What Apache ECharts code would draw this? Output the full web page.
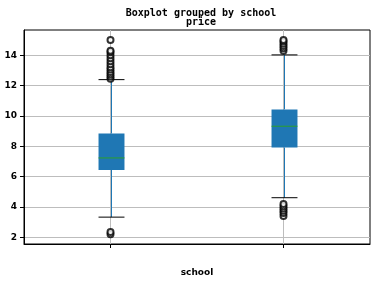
<!DOCTYPE html>
<html><head><meta charset="utf-8">
<script src="https://cdn.jsdelivr.net/npm/echarts@6/dist/echarts.min.js"></script>
<style>html,body{margin:0;padding:0;background:#fff}#c{width:380px;height:282px}</style>
</head><body><div id="c"></div>
<script>
const categories = ['school A', 'school B'];
const lowerWhisker = [3.33, 4.61];
const q1 = [6.44, 7.92];
const median = [7.23, 9.32];
const q3 = [8.84, 10.43];
const upperWhisker = [12.39, 14.02];
const outliersA = [2.2, 2.35, 12.45, 12.6, 12.75, 12.9, 13.05, 13.2, 13.4, 13.6, 13.8, 14.0, 14.2, 14.3, 15.0];
const outliersB = [3.4, 3.6, 3.75, 3.9, 4.05, 4.2, 14.3, 14.45, 14.6, 14.75, 14.9, 15.0];
const yTicks = [2, 4, 6, 8, 10, 12, 14];
const xTicks = [0, 1];

const boxData = categories.map((c, i) => [i, lowerWhisker[i], q1[i], median[i], q3[i], upperWhisker[i]]);
const outlierData = [];
outliersA.forEach(v => outlierData.push([0, v]));
outliersB.forEach(v => outlierData.push([1, v]));

const chart = echarts.init(document.getElementById('c'));
chart.setOption({
  animation: false,
  title: {
    text: 'Boxplot grouped by school\nprice',
    left: 196, top: 4, textAlign: 'center',
    textStyle: { fontFamily: 'DejaVu Sans Mono', fontWeight: 'bold', fontSize: 10, lineHeight: 9, color: '#000' }
  },
  grid: { left: 24, right: 10, top: 30, bottom: 36, show: true, borderColor: '#000', borderWidth: 1, backgroundColor: 'transparent' },
  xAxis: {
    type: 'value', min: -0.5, max: 1.5,
    axisLine: { show: true, onZero: false, lineStyle: { color: '#000', width: 1 } },
    axisTick: { show: true, length: 4, customValues: xTicks, lineStyle: { color: '#000' } },
    axisLabel: { show: false, customValues: xTicks, formatter: v => categories[v] },
    splitLine: { show: true, lineStyle: { color: '#bdbdbd', width: 1 } },
    name: 'school', nameLocation: 'middle', nameGap: 24,
    nameTextStyle: { fontFamily: 'DejaVu Sans', fontWeight: 'bold', fontSize: 9, color: '#000' }
  },
  yAxis: {
    type: 'value', min: 1.56, max: 15.66,
    axisLine: { show: true, onZero: false, lineStyle: { color: '#000', width: 1 } },
    axisTick: { show: true, length: 4, customValues: yTicks, lineStyle: { color: '#000' } },
    axisLabel: { customValues: yTicks, margin: 7, fontFamily: 'DejaVu Sans', fontWeight: 'bold', fontSize: 9, color: '#000' },
    splitLine: { show: true, lineStyle: { color: '#bdbdbd', width: 1 } }
  },
  series: [
    {
      type: 'custom',
      data: boxData,
      z: 3,
      renderItem: function (params, api) {
        const x = api.value(0);
        const pLow = api.coord([x, api.value(1)]);
        const pQ1 = api.coord([x, api.value(2)]);
        const pMed = api.coord([x, api.value(3)]);
        const pQ3 = api.coord([x, api.value(4)]);
        const pHigh = api.coord([x, api.value(5)]);
        const bw = api.size([1, 0])[0] * 0.15;
        const cw = bw / 2;
        const cx = Math.round(pLow[0]) + 0.5;
        return {
          type: 'group',
          children: [
            { type: 'line', shape: { x1: cx, y1: pLow[1], x2: cx, y2: pQ1[1] }, style: { stroke: '#1f77b4', lineWidth: 1 } },
            { type: 'line', shape: { x1: cx, y1: pQ3[1], x2: cx, y2: pHigh[1] }, style: { stroke: '#1f77b4', lineWidth: 1 } },
            { type: 'rect', shape: { x: cx - bw / 2, y: pQ3[1], width: bw, height: pQ1[1] - pQ3[1] }, style: { fill: '#1f77b4', stroke: '#1f77b4', lineWidth: 0 } },
            { type: 'line', shape: { x1: cx - bw / 2, y1: pMed[1], x2: cx + bw / 2, y2: pMed[1] }, style: { stroke: '#2ca02c', lineWidth: 1 } },
            { type: 'line', shape: { x1: cx - cw, y1: pLow[1], x2: cx + cw, y2: pLow[1] }, style: { stroke: '#000', lineWidth: 1 } },
            { type: 'line', shape: { x1: cx - cw, y1: pHigh[1], x2: cx + cw, y2: pHigh[1] }, style: { stroke: '#000', lineWidth: 1 } }
          ]
        };
      }
    },
    {
      type: 'scatter',
      data: outlierData,
      z: 4,
      symbol: 'emptyCircle',
      symbolSize: 6,
      itemStyle: { color: '#000', borderColor: '#000', borderWidth: 1 }
    }
  ]
});
</script>
</body></html>
